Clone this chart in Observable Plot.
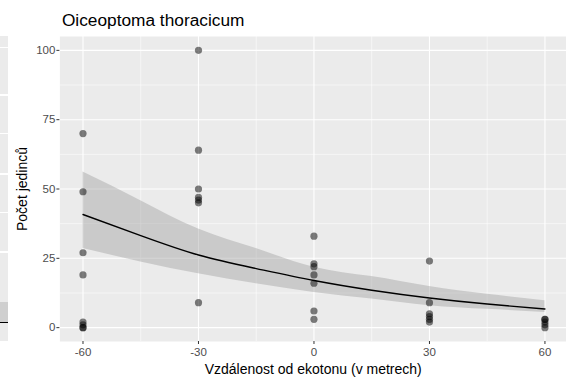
<!DOCTYPE html>
<html>
<head>
<meta charset="utf-8">
<script src="https://cdn.jsdelivr.net/npm/d3@7"></script>
<script src="https://cdn.jsdelivr.net/npm/@observablehq/plot@0.6"></script>
<style>
  html, body { margin: 0; padding: 0; background: #fff; }
  #wrap { position: relative; width: 566px; height: 381px; overflow: hidden; }
  #strip { position: absolute; left: 0; top: 36px; width: 8px; height: 305px;
    background: linear-gradient(to bottom,
      #ebebeb 0px, #ebebeb 11px, #fff 11px, #fff 12px, #ebebeb 12px,
      #ebebeb 58px, #fff 58px, #fff 60px, #ebebeb 60px,
      #ebebeb 97px, #fff 97px, #fff 98px, #ebebeb 98px,
      #ebebeb 137px, #fff 137px, #fff 139px, #ebebeb 139px,
      #ebebeb 176px, #fff 176px, #fff 177px, #ebebeb 177px,
      #ebebeb 215px, #fff 215px, #fff 217px, #ebebeb 217px,
      #ebebeb 266px, #cfcfcf 266px, #cfcfcf 286px, #000 286px, #000 287.5px, #ebebeb 287.5px, #ebebeb 305px); }
  svg { display: block; }
</style>
</head>
<body>
<div id="wrap"><div id="chart"></div><div id="strip"></div></div>
<script>
// Observations: distance from ecotone (m) and count
const pointX = [-60,-60,-60,-60,-60,-60,-60,-60,
                -30,-30,-30,-30,-30,-30,-30,
                0,0,0,0,0,0,0,
                30,30,30,30,30,30,
                60,60,60,60,60];
const pointY = [70,49,27,19,2,1,0,0,
                100,64,50,47,46,45,9,
                33,23,22,19,16,6,3,
                24,9,5,4,3,2,
                3,3,2,1,0];

// Fitted curve and confidence band
const fitX  = [-60,-45,-30,-15,0,15,30,45,60];
const fitY  = [40.8,33.2,26.2,21.3,17.0,13.5,10.7,8.5,6.7];
const fitLo = [28.5,23.7,19.4,15.8,12.7,10.3,7.9,6.6,5.5];
const fitHi = [56.1,45.8,35.6,28.5,21.8,18.4,14.8,12.0,9.7];

const xTicks = [-60,-30,0,30,60];
const xMinor = [-45,-15,15,45];
const yTicks = [0,25,50,75,100];
const yMinor = [12.5,37.5,62.5,87.5];

const titleText = "Oiceoptoma thoracicum";
const xLabel = "Vzdálenost od ekotonu (v metrech)";
const yLabel = "Počet jedinců";

const points = pointX.map((x, i) => ({x, y: pointY[i]}));
const fit = fitX.map((x, i) => ({x, y: fitY[i], lo: fitLo[i], hi: fitHi[i]}));

const chart = Plot.plot({
  width: 566,
  height: 381,
  marginLeft: 59.4,
  marginRight: 0,
  marginTop: 36,
  marginBottom: 40,
  style: {fontFamily: "Liberation Sans, Arial, sans-serif", background: "#fff"},
  x: {domain: [-66, 65.6]},
  y: {domain: [-5, 105]},
  marks: [
    Plot.frame({fill: "#ebebeb", stroke: null}),
    Plot.gridX(xMinor, {stroke: "#fff", strokeOpacity: 1, strokeWidth: 0.55}),
    Plot.gridY(yMinor, {stroke: "#fff", strokeOpacity: 1, strokeWidth: 0.55}),
    Plot.gridX(xTicks, {stroke: "#fff", strokeOpacity: 1, strokeWidth: 1.1}),
    Plot.gridY(yTicks, {stroke: "#fff", strokeOpacity: 1, strokeWidth: 1.1}),
    Plot.axisX(xTicks, {tickSize: 3, tickPadding: 3.5, fontSize: 11.5, fill: "#4d4d4d", stroke: "#333", label: null, tickFormat: d => String(d)}),
    Plot.axisY(yTicks, {tickSize: 3, tickPadding: 1.5, fontSize: 11.5, fill: "#4d4d4d", stroke: "#333", label: null}),
    Plot.areaY(fit, {x: "x", y1: "lo", y2: "hi", fill: "#999", fillOpacity: 0.4, curve: "natural"}),
    Plot.dot(points, {x: "x", y: "y", r: 3.6, fill: "#000", fillOpacity: 0.5, stroke: null}),
    Plot.line(fit, {x: "x", y: "y", stroke: "#000", strokeWidth: 1.4, curve: "natural"}),
    Plot.text([titleText], {frameAnchor: "top-left", dx: 2, dy: -16.5, textAnchor: "start", lineAnchor: "middle", fontSize: 17.3, fill: "#000"}),
    Plot.text([xLabel], {frameAnchor: "bottom", dy: 28.5, lineAnchor: "middle", fontSize: 14, fill: "#000"}),
    Plot.text([yLabel], {frameAnchor: "left", dx: -37.5, rotate: -90, textAnchor: "middle", lineAnchor: "middle", fontSize: 14, fill: "#000"})
  ]
});
document.getElementById("chart").append(chart);
</script>
</body>
</html>
